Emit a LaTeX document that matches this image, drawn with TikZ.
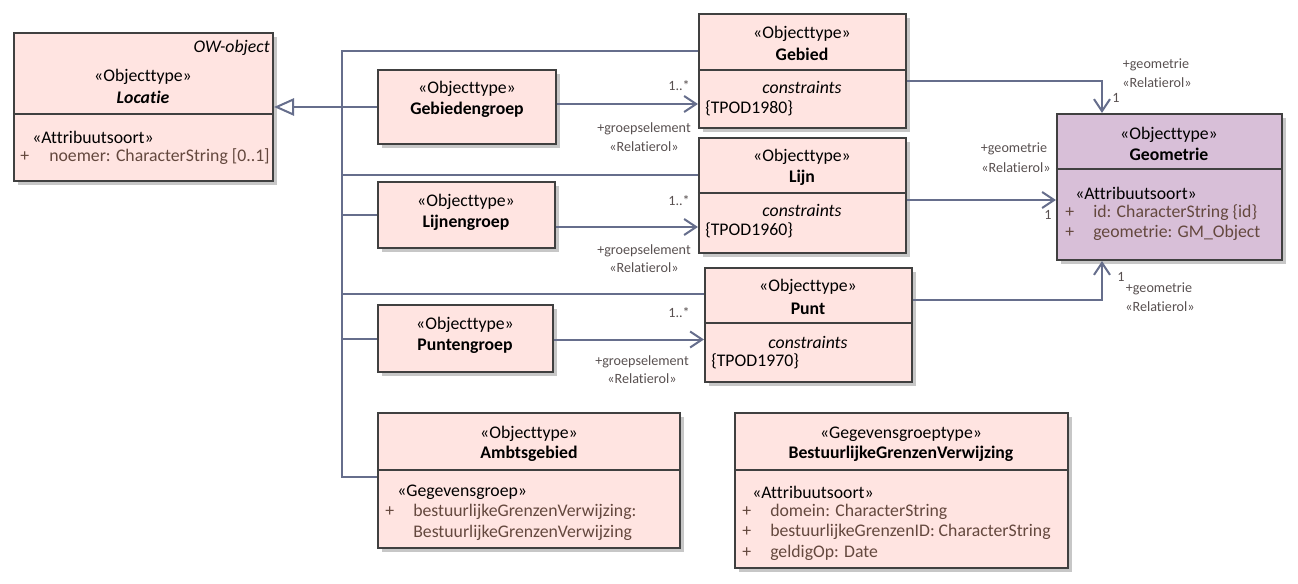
\documentclass[tikz,border=0pt]{standalone}
\usepackage{fontspec}
\setmainfont{Carlito}[Ligatures={NoCommon,NoDiscretionary}]
\usetikzlibrary{arrows.meta,calc,fit,shadows}
\definecolor{classfill}{RGB}{255,228,225}
\definecolor{geomfill}{RGB}{216,191,216}
\definecolor{linkcol}{RGB}{102,110,140}
\definecolor{edgecol}{RGB}{64,64,64}
\definecolor{attrcol}{RGB}{100,72,62}
\definecolor{lblcol}{RGB}{88,80,80}
\begin{document}
\begin{tikzpicture}[x=0.75pt,y=-0.75pt,
  umlbox/.style={draw=edgecol, line width=1.6pt, inner sep=0pt, fill=classfill,
    drop shadow={shadow xshift=3pt, shadow yshift=-3pt, fill=black!22, opacity=1}},
  divider/.style={draw=edgecol, line width=1.5pt},
  ctext/.style={inner sep=0pt, font=\fontsize{13.3}{15}\selectfont},
  cbold/.style={ctext, font=\fontsize{13.3}{15}\selectfont\bfseries},
  ltext/.style={ctext, anchor=west},
  attr/.style={ltext, text=attrcol},
  lbl/.style={inner sep=0pt, text=lblcol, font=\fontsize{10.6}{12}\selectfont},
  genline/.style={draw=linkcol, line width=1.5pt},
  gen/.style={genline, -{Triangle[open, length=15pt, width=13pt, fill=white]}},
  assoc/.style={draw=linkcol, line width=1.5pt, -{Straight Barb[length=9pt, width=12pt]}}
]
\useasboundingbox (0,0) rectangle (1298,584);

% ---------- class boxes ----------
\node[umlbox, fit={(14,33) (273,181)}] (locatie) {};
\node[umlbox, fit={(699,14) (906,128)}] (gebied) {};
\node[umlbox, fit={(378,70) (556,144)}] (gebiedengroep) {};
\node[umlbox, fit={(699,138) (906,253)}] (lijn) {};
\node[umlbox, fit={(378,182) (555,248)}] (lijnengroep) {};
\node[umlbox, fit={(705,268) (912,382)}] (punt) {};
\node[umlbox, fit={(378,305) (553,372)}] (puntengroep) {};
\node[umlbox, fit={(378,413) (680,548)}] (ambtsgebied) {};
\node[umlbox, fit={(735,413) (1068,568)}] (bgv) {};
\node[umlbox, fill=geomfill, fit={(1057,114) (1282,260)}] (geometrie) {};

% compartment dividers
\draw[divider] (locatie.west |- 0,114) -- (locatie.east |- 0,114);
\draw[divider] (gebied.west |- 0,70) -- (gebied.east |- 0,70);
\draw[divider] (lijn.west |- 0,193) -- (lijn.east |- 0,193);
\draw[divider] (punt.west |- 0,323) -- (punt.east |- 0,323);
\draw[divider] (ambtsgebied.west |- 0,470) -- (ambtsgebied.east |- 0,470);
\draw[divider] (bgv.west |- 0,470) -- (bgv.east |- 0,470);
\draw[divider] (geometrie.west |- 0,169) -- (geometrie.east |- 0,169);

% ---------- box texts ----------
% Locatie
\node[ctext, anchor=east, font=\fontsize{13.3}{15}\selectfont\itshape] (locatie-ow) at (270,48) {OW-object};
\node[ctext] (locatie-st) at (143,77) {«Objecttype»};
\node[cbold, font=\fontsize{13.3}{15}\selectfont\bfseries\itshape] (locatie-nm) at (143,97) {Locatie};
\node[ltext] (locatie-as) at (32,137) {«Attribuutsoort»};
\node[attr] (locatie-p1) at (20,157) {+};
\node[attr] (locatie-a1) at (49,157) {noemer: CharacterString [0..1]};

% Gebied
\node[ctext] (gebied-st) at (802,34) {«Objecttype»};
\node[cbold] (gebied-nm) at (802,54) {Gebied};
\node[ctext, font=\fontsize{13.3}{15}\selectfont\itshape] (gebied-cs) at (802,87) {constraints};
\node[ltext] (gebied-c1) at (705,108) {\{TPOD1980\}};

% Gebiedengroep
\node[ctext] (gebiedengroep-st) at (467,89) {«Objecttype»};
\node[cbold] (gebiedengroep-nm) at (467,110) {Gebiedengroep};

% Lijn
\node[ctext] (lijn-st) at (802,157) {«Objecttype»};
\node[cbold] (lijn-nm) at (802,178) {Lijn};
\node[ctext, font=\fontsize{13.3}{15}\selectfont\itshape] (lijn-cs) at (802,210) {constraints};
\node[ltext] (lijn-c1) at (705,230) {\{TPOD1960\}};

% Lijnengroep
\node[ctext] (lijnengroep-st) at (466,202) {«Objecttype»};
\node[cbold] (lijnengroep-nm) at (466,223) {Lijnengroep};

% Punt
\node[ctext] (punt-st) at (808,287) {«Objecttype»};
\node[cbold] (punt-nm) at (808,309) {Punt};
\node[ctext, font=\fontsize{13.3}{15}\selectfont\itshape] (punt-cs) at (808,342) {constraints};
\node[ltext] (punt-c1) at (711,361) {\{TPOD1970\}};

% Puntengroep
\node[ctext] (puntengroep-st) at (465,325) {«Objecttype»};
\node[cbold] (puntengroep-nm) at (465,346) {Puntengroep};

% Ambtsgebied
\node[ctext] (ambtsgebied-st) at (529,434) {«Objecttype»};
\node[cbold] (ambtsgebied-nm) at (529,454) {Ambtsgebied};
\node[ltext] (ambtsgebied-gg) at (397,492) {«Gegevensgroep»};
\node[attr] (ambtsgebied-p1) at (385,512) {+};
\node[attr] (ambtsgebied-a1) at (413,512) {bestuurlijkeGrenzenVerwijzing:};
\node[attr] (ambtsgebied-a2) at (413,533) {BestuurlijkeGrenzenVerwijzing};

% BestuurlijkeGrenzenVerwijzing
\node[ctext] (bgv-st) at (901,434) {«Gegevensgroeptype»};
\node[cbold] (bgv-nm) at (901,454) {BestuurlijkeGrenzenVerwijzing};
\node[ltext] (bgv-as) at (752,492) {«Attribuutsoort»};
\node[attr] (bgv-p1) at (742,512) {+};
\node[attr] (bgv-a1) at (770,512) {domein: CharacterString};
\node[attr] (bgv-p2) at (742,532) {+};
\node[attr] (bgv-a2) at (770,532) {bestuurlijkeGrenzenID: CharacterString};
\node[attr] (bgv-p3) at (742,553) {+};
\node[attr] (bgv-a3) at (770,553) {geldigOp: Date};

% Geometrie
\node[ctext] (geometrie-st) at (1169,135) {«Objecttype»};
\node[cbold] (geometrie-nm) at (1169,154) {Geometrie};
\node[ltext] (geometrie-as) at (1075,193) {«Attribuutsoort»};
\node[attr] (geometrie-p1) at (1065,213) {+};
\node[attr] (geometrie-a1) at (1093,213) {id: CharacterString \{id\}};
\node[attr] (geometrie-p2) at (1065,233) {+};
\node[attr] (geometrie-a2) at (1093,233) {geometrie: GM\_Object};

% ---------- generalizations to Locatie ----------
\coordinate (trunk) at (342,107);
\draw[genline] ($(gebied.west)+(0,-19.5)$) -| (trunk);
\draw[genline] ($(lijn.west)+(0,-20.5)$) -| (trunk);
\draw[genline] ($(punt.west)+(0,-31)$) -| (trunk);
\draw[genline] ($(ambtsgebied.west)+(0,-3.5)$) -| (trunk);
\draw[genline] (gebiedengroep.west) -- (gebiedengroep.west -| trunk);
\draw[genline] (lijnengroep.west) -- (lijnengroep.west -| trunk);
\draw[genline] (puntengroep.west) -- (puntengroep.west -| trunk);
\draw[gen] (trunk) -- (locatie.east);

% ---------- groepselement associations ----------
\draw[assoc] ($(gebiedengroep.east)+(0,-3)$) -- ($(gebied.west |- gebiedengroep.east)+(0,-3)$);
\draw[assoc] ($(lijnengroep.east)+(0,12)$) -- ($(lijn.west |- lijnengroep.east)+(0,12)$);
\draw[assoc] ($(puntengroep.east)+(0,1)$) -- ($(punt.west |- puntengroep.east)+(0,1)$);

\node[lbl] (m1) at (679,86) {1..*};
\node[lbl] (r1a) at (644,129) {+groepselement};
\node[lbl] (r1b) at (644,147) {«Relatierol»};
\node[lbl] (m2) at (679,201) {1..*};
\node[lbl] (r2a) at (644,251) {+groepselement};
\node[lbl] (r2b) at (644,268) {«Relatierol»};
\node[lbl] (m3) at (679,313) {1..*};
\node[lbl] (r3a) at (642,362) {+groepselement};
\node[lbl] (r3b) at (642,379) {«Relatierol»};

% ---------- geometrie associations ----------
\draw[assoc] ($(gebied.east)+(0,10.5)$) -| ($(geometrie.north)+(-67.5,0)$);
\draw[assoc] ($(lijn.east)+(0,4.5)$) -- ($(geometrie.west |- lijn.east)+(0,4.5)$);
\draw[assoc] ($(punt.east)+(0,-25)$) -| ($(geometrie.south)+(-67.5,0)$);

\node[lbl] (g1a) at (1156,65) {+geometrie};
\node[lbl] (g1b) at (1157,83) {«Relatierol»};
\node[lbl] (g1m) at (1116,98) {1};
\node[lbl] (g2a) at (1014,149) {+geometrie};
\node[lbl] (g2b) at (1016,168) {«Relatierol»};
\node[lbl] (g2m) at (1048,215) {1};
\node[lbl] (g3m) at (1121,277) {1};
\node[lbl] (g3a) at (1159,289) {+geometrie};
\node[lbl] (g3b) at (1160,307) {«Relatierol»};
\end{tikzpicture}
\end{document}
